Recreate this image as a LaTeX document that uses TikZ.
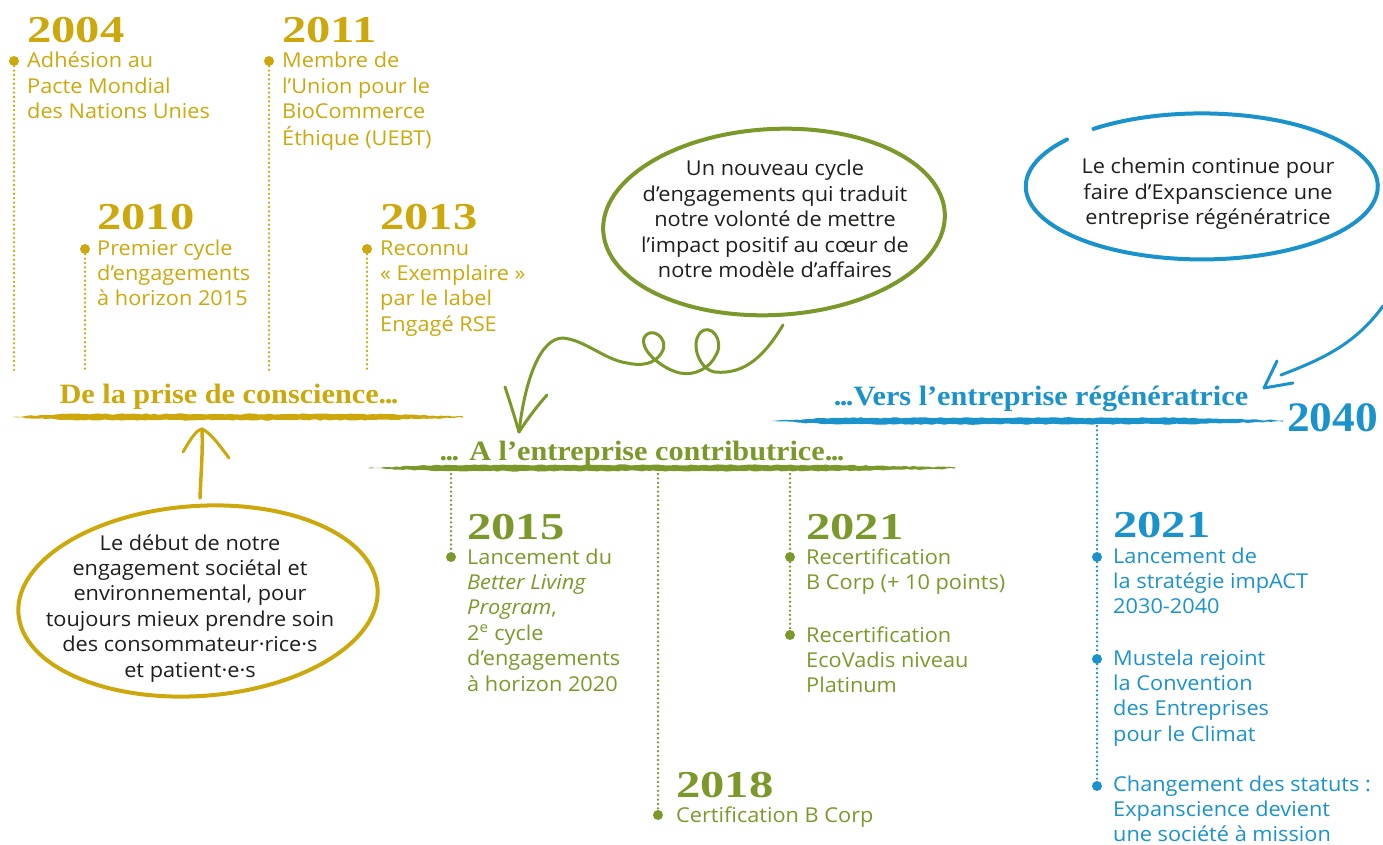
\documentclass[tikz,border=0pt]{standalone}
\usepackage{fontspec}
\setmainfont{Open Sans}[FakeStretch=1.06]
\newfontfamily\serifb{Liberation Serif}[FakeStretch=1.28]
\newfontfamily\serifh{Liberation Serif}[FakeStretch=1.08]
\usetikzlibrary{shapes.geometric,decorations.pathmorphing,calc}
\definecolor{cY}{RGB}{204,168,12}
\definecolor{cG}{RGB}{122,153,42}
\definecolor{cB}{RGB}{26,146,204}
\definecolor{cK}{RGB}{30,30,28}
\newcommand\ml[1]{\begin{tabular}[t]{@{}l@{}}#1\end{tabular}}
\newcommand\mc[1]{\begin{tabular}[t]{@{}c@{}}#1\end{tabular}}
\newcommand\tdots{.\kern-1.5pt.\kern-1.5pt.}
\newcommand\brush[5]{%
 \fill[#1,decorate,decoration={random steps,segment length=4pt,amplitude=0.6pt}]
  (#2,#4) -- ({#2+0.12*(#3-#2)},{#4-#5}) -- ({#2+0.8*(#3-#2)},{#4-#5}) -- (#3,{#4-0.6})
  -- (#3,{#4+0.6}) -- ({#2+0.8*(#3-#2)},{#4+#5}) -- ({#2+0.12*(#3-#2)},{#4+#5}) -- cycle;}
\tikzset{
 body/.style={font=\fontsize{20.5}{25.4}\selectfont, inner sep=0, anchor=base west},
 year/.style={font=\serifb\bfseries\fontsize{38}{38}\selectfont, inner sep=0, anchor=base west},
 head/.style={font=\serifh\bfseries\fontsize{28}{28}\selectfont, inner sep=0, anchor=base},
 bubtext/.style={font=\fontsize{20.5}{25.4}\selectfont, text=cK, inner sep=0, anchor=base},
 dot/.style={circle, fill, inner sep=0, minimum size=10},
 dots/.style={line width=2.6, dash pattern=on 0pt off 4.4pt, line cap=round},
 hand/.style={line width=3, line cap=round, line join=round},
}
\begin{document}
\begin{tikzpicture}[x=1pt,y=-1pt]
\pgfmathsetseed{7}
\useasboundingbox (0,0) rectangle (1383,845);

% ---------- brush lines ----------
\brush{cY}{12}{463}{417}{3}
\brush{cG}{368}{955}{468}{3}
\brush{cB}{772}{1283}{421}{3.2}

% ---------- headings ----------
\node[head, text=cY] (hY) at (229,403) {De la prise de conscience\tdots};
\node[head, text=cG] (hG) at (642,460) {\tdots{} A l’entreprise contributrice\tdots};
\node[head, text=cB] (hB) at (1041,405) {\tdots Vers l’entreprise régénératrice};
\node[year, text=cB, font=\serifh\bfseries\fontsize{42}{42}\selectfont] (y2040) at (1287,431) {2040};

% ---------- yellow timeline ----------
\node[year, text=cY] (y2004) at (27,43) {2004};
\node[year, text=cY] (y2011) at (282,43) {2011};
\node[year, text=cY] (y2010) at (97,229) {2010};
\node[year, text=cY] (y2013) at (380,229) {2013};
\node[dot, fill=cY] (d2004) at (14,61) {};
\node[dot, fill=cY] (d2011) at (269,61) {};
\node[dot, fill=cY] (d2010) at (85,249) {};
\node[dot, fill=cY] (d2013) at (367,249) {};
\coordinate (e2004) at (14,372);
\coordinate (e2011) at (269,372);
\coordinate (e2010) at (85,372);
\coordinate (e2013) at (367,372);
\draw[dots, cY] (d2004) -- (e2004);
\draw[dots, cY] (d2011) -- (e2011);
\draw[dots, cY] (d2010) -- (e2010);
\draw[dots, cY] (d2013) -- (e2013);
\node[body, text=cY] (t2004) at (27,68) {\ml{Adhésion au\\Pacte Mondial\\des Nations Unies}};
\node[body, text=cY] (t2011) at (282,68) {\ml{Membre de\\l’Union pour le\\BioCommerce\\Éthique (UEBT)}};
\node[body, text=cY] (t2010) at (97,255) {\ml{Premier cycle\\d’engagements\\à horizon 2015}};
\node[body, text=cY] (t2013) at (380,255) {\ml{Reconnu\\«~Exemplaire~»\\par le label\\Engagé RSE}};

% ---------- green timeline ----------
\node[year, text=cG] (y2015) at (467,539) {2015};
\node[year, text=cG] (y2018) at (676,797) {2018};
\node[year, text=cG] (y2021g) at (806,539) {2021};
\coordinate (s2015) at (451,474);
\coordinate (s2018) at (658,474);
\coordinate (s2021) at (790,474);
\node[dot, fill=cG] (d2015) at (451,557) {};
\node[dot, fill=cG] (d2018) at (658,815) {};
\node[dot, fill=cG] (d2021a) at (790,557) {};
\node[dot, fill=cG] (d2021b) at (790,635) {};
\draw[dots, cG] (s2015) -- (d2015);
\draw[dots, cG] (s2018) -- (d2018);
\draw[dots, cG] (s2021) -- (d2021a) -- (d2021b);
\node[body, text=cG] (t2015) at (467,564) {\ml{Lancement du\\\textit{Better Living}\\\textit{Program},\\2\textsuperscript{e} cycle\\d’engagements\\à horizon 2020}};
\node[body, text=cG] (t2018) at (676,822) {Certification B Corp};
\node[body, text=cG] (t2021a) at (806,564) {\ml{Recertification\\B Corp (+ 10 points)}};
\node[body, text=cG] (t2021b) at (806,642) {\ml{Recertification\\EcoVadis niveau\\Platinum}};

% ---------- blue timeline ----------
\node[year, text=cB] (y2021b) at (1113,537) {2021};
\coordinate (s2040) at (1097,426);
\node[dot, fill=cB] (db1) at (1097,557) {};
\node[dot, fill=cB] (db2) at (1097,659) {};
\node[dot, fill=cB] (db3) at (1097,786) {};
\draw[dots, cB] (s2040) -- (db1) -- (db2) -- (db3);
\node[body, text=cB] (tb1) at (1113,563) {\ml{Lancement de\\la stratégie impACT\\2030-2040}};
\node[body, text=cB] (tb2) at (1113,665) {\ml{Mustela rejoint\\la Convention\\des Entreprises\\pour le Climat}};
\node[body, text=cB] (tb3) at (1113,791) {\ml{Changement des statuts :\\Expanscience devient\\une société à mission}};

% ---------- yellow bubble ----------
\node[ellipse, draw=cY, line width=4, minimum width=360, minimum height=190, rotate=4, inner sep=0] (bubY) at (198,601) {};
\node[bubtext] (tY) at (190,550) {\mc{Le début de notre\\engagement sociétal et\\environnemental, pour\\toujours mieux prendre soin\\des consommateur·rice·s\\et patient·e·s}};
\coordinate (aYs) at (200,498);
\coordinate (aYt) at (202,429);
\draw[cY, hand, line width=3.5] (aYs) .. controls (201,472) and (203,450) .. (aYt);
\draw[cY, hand] (183,452) .. controls (190,440) and (196,430) .. (aYt) .. controls (210,432) and (220,446) .. (229,458);

% ---------- green bubble ----------
\node[ellipse, draw=cG, line width=4, minimum width=342, minimum height=186, rotate=3, inner sep=0] (bubG) at (774,222) {};
\node[bubtext] (tG) at (775,176) {\mc{Un nouveau cycle\\d’engagements qui traduit\\notre volonté de mettre\\l’impact positif au cœur de\\notre modèle d’affaires}};
\coordinate (gS) at (783,325);
\coordinate (gT) at (519,432);
\draw[cG, hand] (gS) .. controls (765,355) and (745,375) .. (715,372)
  .. controls (700,370) and (690,345) .. (700,333)
  .. controls (710,322) and (725,340) .. (716,355)
  .. controls (710,368) and (695,376) .. (680,373)
  .. controls (665,370) and (640,352) .. (644,338)
  .. controls (650,325) and (670,338) .. (662,352)
  .. controls (655,365) and (640,366) .. (627,363)
  .. controls (605,360) and (585,340) .. (563,338)
  .. controls (540,338) and (525,380) .. (gT);
\draw[cG, hand] (505,387) .. controls (510,402) and (515,418) .. (gT) .. controls (528,418) and (538,405) .. (547,395);

% ---------- blue bubble ----------
\node[ellipse, minimum width=352, minimum height=146, inner sep=0] (bubB) at (1203,188) {};
\draw[cB, line width=4, line cap=round] ($(bubB.center)+(232:178 and 75)$) arc[start angle=232, end angle=580, x radius=176, y radius=73];
\node[bubtext] (tB) at (1208,174) {\mc{Le chemin continue pour\\faire d’Expanscience une\\entreprise régénératrice}};
\coordinate (bS) at (1383,306);
\coordinate (bT) at (1264,388);
\draw[cB, hand] (bS) .. controls (1355,345) and (1320,360) .. (1281,375);
\draw[cB, hand] (1277,361) -- (bT) -- (1293,383);
\end{tikzpicture}
\end{document}
